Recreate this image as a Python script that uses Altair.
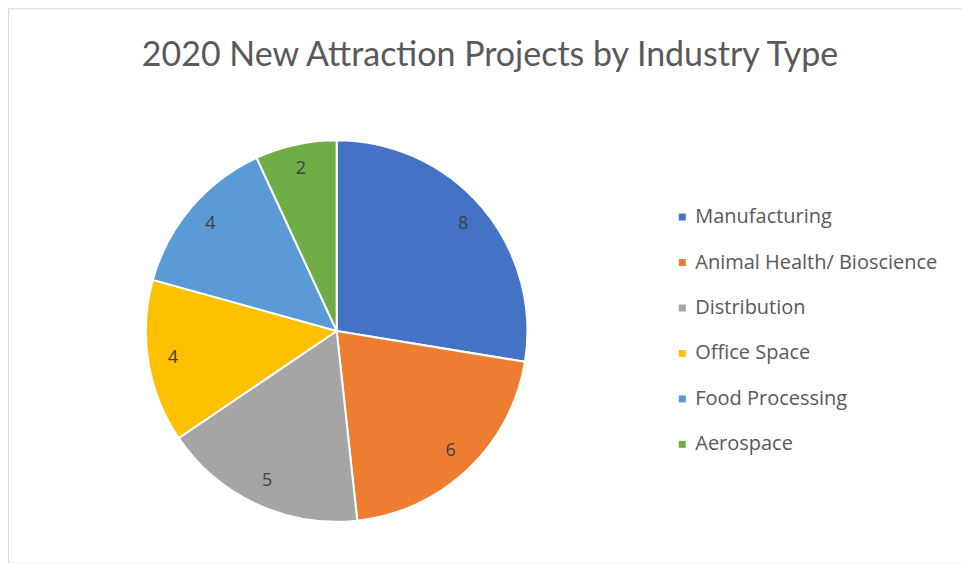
import altair as alt
import pandas as pd

categories = ["Manufacturing", "Animal Health/ Bioscience", "Distribution",
              "Office Space", "Food Processing", "Aerospace"]
values = [8, 6, 5, 4, 4, 2]
colors = ["#4472C4", "#ED7D31", "#A5A5A5", "#FFC000", "#5B9BD5", "#70AD47"]

df = pd.DataFrame({"Industry": categories, "Projects": values,
                   "order": list(range(len(categories)))})

cx, cy = 329, 323

base = alt.Chart(df).encode(
    theta=alt.Theta("Projects:Q", stack=True),
    order=alt.Order("order:Q"),
)

pie = base.mark_arc(outerRadius=191, stroke="white", strokeWidth=2).encode(
    x=alt.value(cx), y=alt.value(cy),
    color=alt.Color("Industry:N",
                    scale=alt.Scale(domain=categories, range=colors),
                    legend=alt.Legend(title=None, orient="none",
                                      legendX=665, legendY=199,
                                      symbolType="square", symbolSize=49,
                                      symbolStrokeWidth=0,
                                      labelFont="Open Sans", labelFontSize=20,
                                      labelColor="#595959", rowPadding=25.5,
                                      padding=0, labelOffset=3,
                                      labelLimit=400)),
)

labels = base.mark_text(radius=166, font="Open Sans", fontSize=18,
                        color="#404040").encode(
    x=alt.value(cx), y=alt.value(cy),
    text=alt.Text("Projects:Q"),
)

chart = (pie + labels).properties(
    width=955, height=555,
    title=alt.TitleParams("2020 New Attraction Projects by Industry Type",
                          font="Lato", fontSize=34, fontWeight="normal",
                          color="#595959", anchor="start", dx=134, dy=0,
                          offset=-92, baseline="alphabetic"),
    autosize=alt.AutoSizeParams(type="none"),
    padding=0,
).configure_view(stroke="#d9d9d9", strokeWidth=1)

chart.save("out.html", embed_options={"renderer": "svg", "actions": False})
